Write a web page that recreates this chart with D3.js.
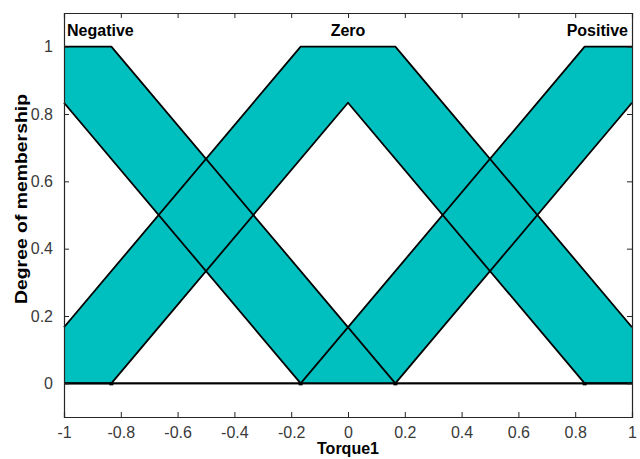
<!DOCTYPE html>
<html><head><meta charset="utf-8">
<script src="https://cdn.jsdelivr.net/npm/d3@7"></script>
<style>
body{margin:0;background:#fff;}
svg{display:block;}
</style></head>
<body>
<svg id="chart" width="640" height="459"></svg>
<script>
// ---- data ----
const mfNames = ["Negative", "Zero", "Positive"];
const upperX = [[-1, -0.8333, 0.1667, 1], [-1, -0.1667, 0.1667, 1], [-1, -0.1667, 0.8333, 1]];
const upperY = [[1, 1, 0, 0], [0.1667, 1, 1, 0.1667], [0, 0, 1, 1]];
const lowerX = [[-1, -0.1667, 1], [-1, -0.8333, 0, 0.8333, 1], [-1, 0.1667, 1]];
const lowerY = [[0.8333, 0, 0], [0, 0, 0.8333, 0, 0], [0, 0, 0.8333]];
const footX = [-0.8333, -0.1667, 0.1667, 0.8333];
const xTicks = [-1, -0.8, -0.6, -0.4, -0.2, 0, 0.2, 0.4, 0.6, 0.8, 1];
const xTickLabels = ["-1", "-0.8", "-0.6", "-0.4", "-0.2", "0", "0.2", "0.4", "0.6", "0.8", "1"];
const yTicks = [0, 0.2, 0.4, 0.6, 0.8, 1];
const yTickLabels = ["0", "0.2", "0.4", "0.6", "0.8", "1"];
const xDomain = [-1, 1];
const yDomain = [-0.1, 1.1];
const xLabel = "Torque1";
const yLabel = "Degree of membership";

// ---- layout ----
const W = 640, H = 459;
const m = {left: 64, right: 8, top: 13, bottom: 42};
const svg = d3.select("#chart");
const x = d3.scaleLinear().domain(xDomain).range([m.left, W - m.right]);
const y = d3.scaleLinear().domain(yDomain).range([H - m.bottom, m.top]);

const font = "Arial, 'Liberation Sans', Helvetica, sans-serif";
const fillCol = "#00bfbf";

const line = d3.line().x(d => x(d[0])).y(d => y(d[1]));

const mfs = mfNames.map((n, i) => ({
  name: n,
  upper: upperX[i].map((v, j) => [v, upperY[i][j]]),
  lower: lowerX[i].map((v, j) => [v, lowerY[i][j]])
}));

const plot = svg.append("g");
// fills
plot.selectAll("path.fill").data(mfs).join("path")
  .attr("class", "fill")
  .attr("d", d => line(d.upper.concat(d.lower.slice().reverse())) + "Z")
  .attr("fill", fillCol).attr("stroke", "none");
// outlines
mfs.forEach(d => {
  [d.upper, d.lower].forEach(pts => {
    plot.append("path").attr("d", line(pts))
      .attr("fill", "none").attr("stroke", "#000").attr("stroke-width", 1.8)
      .attr("stroke-linejoin", "round");
  });
});
// small foot markers
plot.selectAll("rect.foot").data(footX).join("rect")
  .attr("x", d => x(d) - 2).attr("y", y(0) - 1).attr("width", 4).attr("height", 3)
  .attr("fill", "#000");

// axes (box with inward ticks)
const axCol = "#262626";
const gBottom = svg.append("g").attr("transform", `translate(0,${H - m.bottom})`)
  .call(d3.axisBottom(x).tickValues(xTicks).tickFormat((d, i) => xTickLabels[i]).tickSize(-5).tickPadding(10));
const gTop = svg.append("g").attr("transform", `translate(0,${m.top})`)
  .call(d3.axisTop(x).tickValues(xTicks).tickFormat("").tickSize(-5));
const gLeft = svg.append("g").attr("transform", `translate(${m.left},0)`)
  .call(d3.axisLeft(y).tickValues(yTicks).tickFormat((d, i) => yTickLabels[i]).tickSize(-5).tickPadding(11));
const gRight = svg.append("g").attr("transform", `translate(${W - m.right},0)`)
  .call(d3.axisRight(y).tickValues(yTicks).tickFormat("").tickSize(-5));
[gBottom, gTop, gLeft, gRight].forEach(g => {
  g.select(".domain").attr("stroke", axCol).attr("stroke-width", 1.2);
  g.selectAll(".tick line").attr("stroke", axCol).attr("stroke-width", 1);
  g.selectAll(".tick text").attr("fill", "#3a3a3a").style("font-family", font).style("font-size", "16px");
});
gBottom.selectAll(".tick text").attr("dy", "0.71em");

// MF labels
const labelY = y(1) - 11;
svg.append("text").attr("x", x(-1) + 3).attr("y", labelY).attr("text-anchor", "start")
  .style("font-family", font).style("font-size", "16px").style("font-weight", "bold").text(mfNames[0]);
svg.append("text").attr("x", x(0)).attr("y", labelY).attr("text-anchor", "middle")
  .style("font-family", font).style("font-size", "16px").style("font-weight", "bold").text(mfNames[1]);
svg.append("text").attr("x", x(1) - 4).attr("y", labelY).attr("text-anchor", "end")
  .style("font-family", font).style("font-size", "16px").style("font-weight", "bold").text(mfNames[2]);

// axis titles
svg.append("text").attr("x", x(0)).attr("y", 454).attr("text-anchor", "middle")
  .style("font-family", font).style("font-size", "16px").style("font-weight", "bold").text(xLabel);
svg.append("text").attr("transform", `translate(27,199) rotate(-90)`)
  .attr("text-anchor", "middle")
  .attr("textLength", 210).attr("lengthAdjust", "spacingAndGlyphs")
  .style("font-family", font).style("font-size", "16px").style("font-weight", "bold").text(yLabel);
</script>
</body></html>
